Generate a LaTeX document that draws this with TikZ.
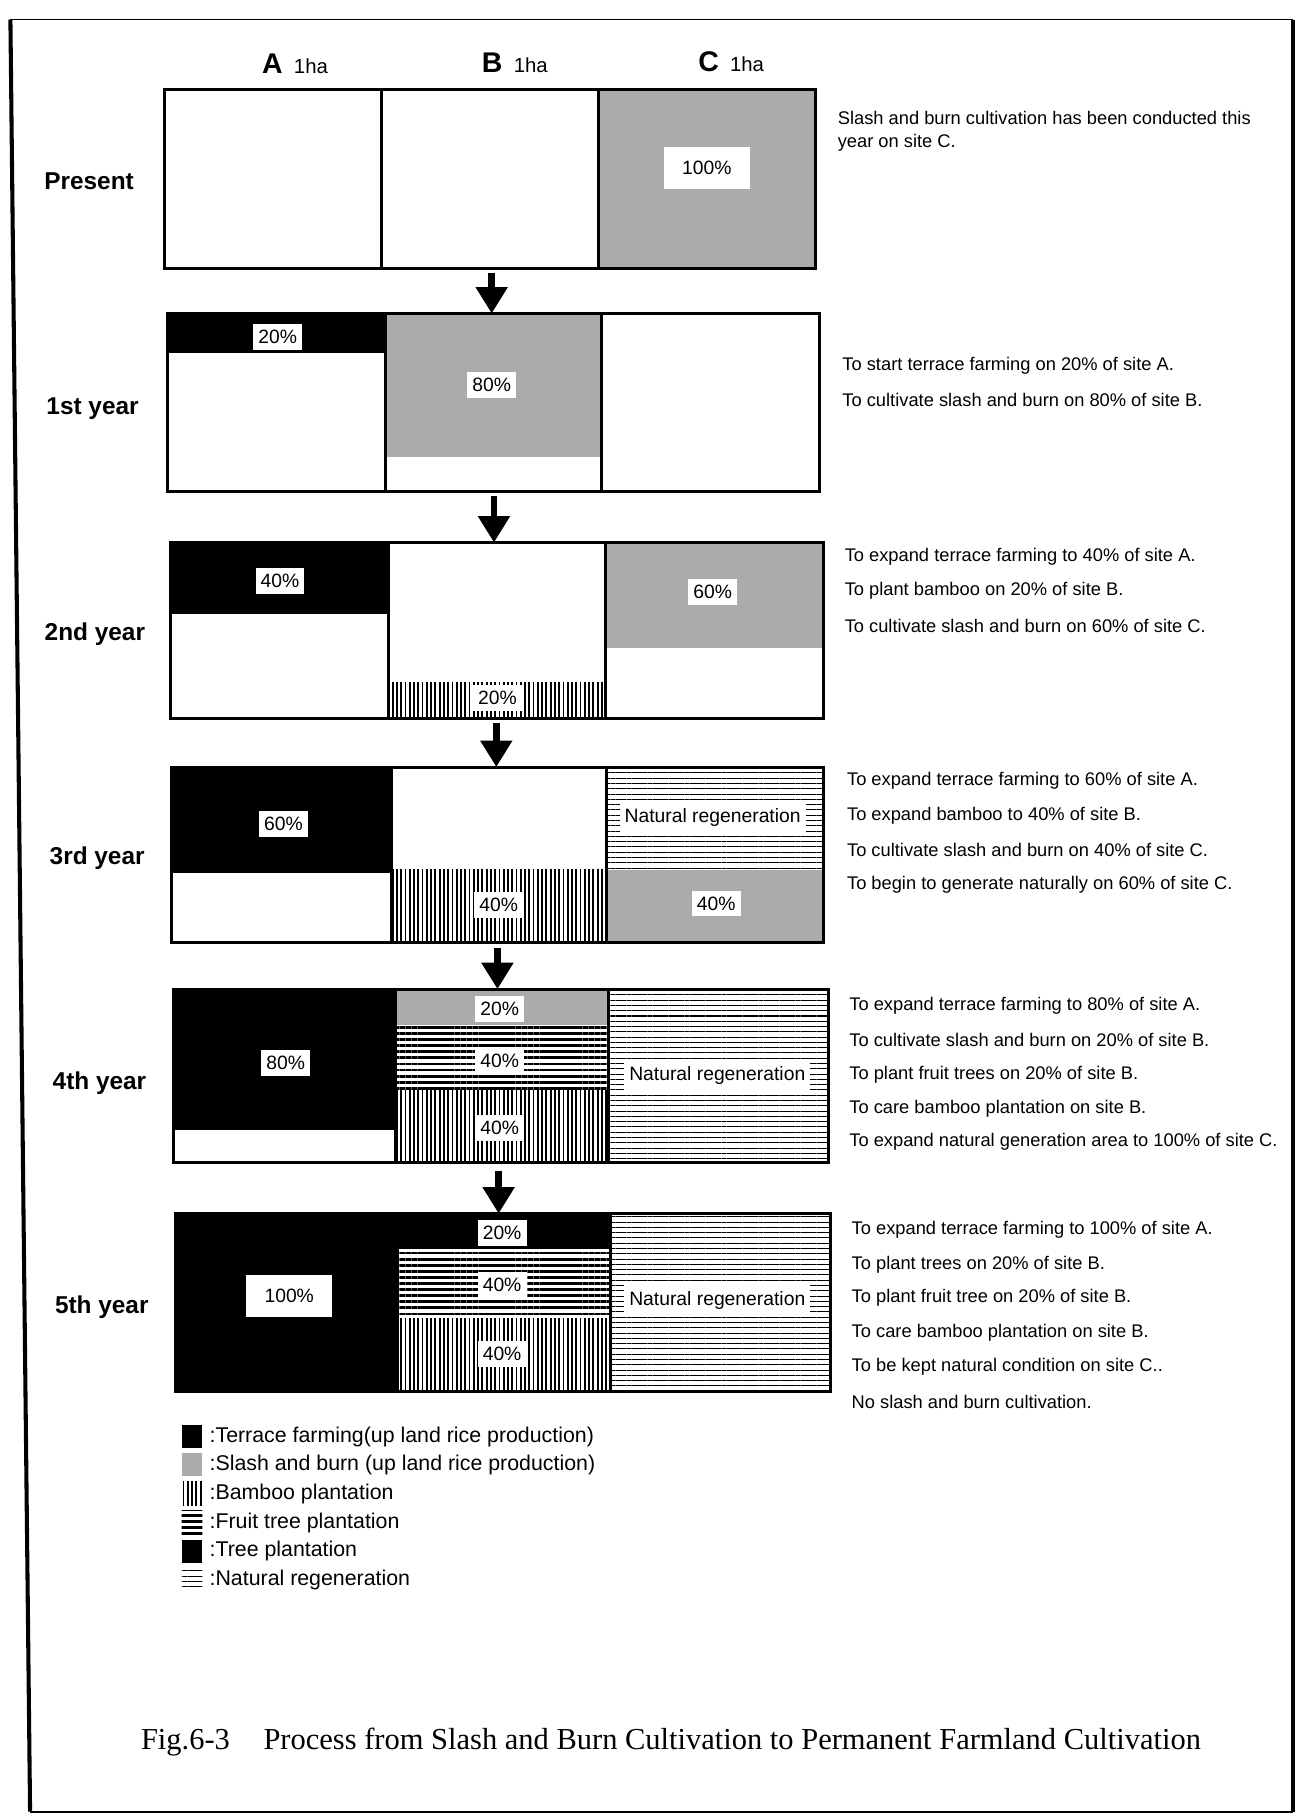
\documentclass[tikz,border=0pt]{standalone}
\usepackage{fontspec}
\setmainfont{Liberation Sans}
\newfontfamily\captionfont{Liberation Serif}
\usetikzlibrary{arrows.meta,patterns.meta}

\begin{document}
\begin{tikzpicture}[x=0.02cm,y=-0.02cm,
        cell/.style={draw=black,line width=1.5pt},
        terrace/.style={fill=black},
        slash/.style={fill=black!33},
        bamboo/.style={pattern={Lines[angle=90,distance=2.1pt,line width=0.9pt]}},
        fruit/.style={pattern={Lines[angle=0,distance=3pt,line width=1.4pt]}},
        natural/.style={pattern={Lines[angle=0,distance=2.6pt,line width=0.5pt]}},
        pct/.style={fill=white,inner xsep=2.5pt,inner ysep=3pt,font=\fontsize{9.5}{11}\selectfont},
        bigpct/.style={pct,inner xsep=9pt,inner ysep=7pt},
        rowlabel/.style={font=\fontsize{12}{14}\selectfont\bfseries},
        note/.style={anchor=west,font=\fontsize{9}{10}\selectfont},
        key/.style={anchor=west,font=\fontsize{10.5}{12}\selectfont},
        flow/.style={line width=3.2pt,-{Triangle[width=15pt,length=13pt]}}]
    \useasboundingbox (0,0) rectangle (1124,1568);

    % outer frame
    \draw[line width=0.5pt] (9,17) -- (1118,17);
    \draw[line width=2pt] (9,17) -- (26,1566);
    \draw[line width=2pt] (1118,17) -- (1118,1566);
    \draw[line width=0.8pt] (26,1566) -- (1118,1566);

    % site headings
    \node (hA) at (255,55) {{\fontsize{14}{16}\selectfont\bfseries A}\ \ {\fontsize{10}{12}\selectfont 1ha}};
    \node (hB) at (445,54) {{\fontsize{14}{16}\selectfont\bfseries B}\ \ {\fontsize{10}{12}\selectfont 1ha}};
    \node (hC) at (632,53) {{\fontsize{14}{16}\selectfont\bfseries C}\ \ {\fontsize{10}{12}\selectfont 1ha}};

    % present
    \fill[slash] (517,77) rectangle (705,232);
    \draw[cell] (142,77) rectangle (705,232);
    \draw[cell] (330,77) -- (330,232);
    \draw[cell] (517,77) -- (517,232);
    \node[bigpct] (c0) at (611,145) {100\%};
    \node[rowlabel] (present) at (77,157) {Present};
    \node[note] (d0a) at (718,102) {Slash and burn cultivation has been conducted this};
    \node[note] (d0b) at (718,123) {year on site C.};
    \coordinate (s0) at (425,236);
    \coordinate (e0) at (425,271);

    % 1st year
    \fill[terrace] (145,271) rectangle (333,305);
    \fill[slash] (333,271) rectangle (520,395);
    \draw[cell] (145,271) rectangle (708,425);
    \draw[cell] (333,271) -- (333,425);
    \draw[cell] (520,271) -- (520,425);
    \node[pct] (a1) at (240,291) {20\%};
    \node[pct] (b1) at (425,333) {80\%};
    \node[rowlabel] (y1) at (80,353) {1st year};
    \node[note] (d1a) at (722,316) {To start terrace farming on 20\% of site A.};
    \node[note] (d1b) at (722,346) {To cultivate slash and burn on 80\% of site B.};
    \coordinate (s1) at (427,429);
    \coordinate (e1) at (427,469);

    % 2nd year
    \fill[terrace] (147,469) rectangle (336,531);
    \fill[bamboo] (336,590) rectangle (523,621);
    \fill[slash] (523,469) rectangle (712,560);
    \draw[cell] (147,469) rectangle (712,621);
    \draw[cell] (336,469) -- (336,621);
    \draw[cell] (523,469) -- (523,621);
    \node[pct] (a2) at (242,502) {40\%};
    \node[pct] (b2) at (430,603) {20\%};
    \node[pct] (c2) at (616,512) {60\%};
    \node[rowlabel] (y2) at (82,548) {2nd year};
    \node[note] (d2a) at (724,481) {To expand terrace farming to 40\% of site A.};
    \node[note] (d2b) at (724,511) {To plant bamboo on 20\% of site B.};
    \node[note] (d2c) at (724,541) {To cultivate slash and burn on 60\% of site C.};
    \coordinate (s2) at (429,625);
    \coordinate (e2) at (429,663);

    % 3rd year
    \fill[terrace] (148,663) rectangle (338,755);
    \fill[bamboo] (338,752) rectangle (524,815);
    \fill[natural] (524,663) rectangle (712,752);
    \fill[slash] (524,752) rectangle (712,815);
    \draw[cell] (148,663) rectangle (712,815);
    \draw[cell] (338,663) -- (338,815);
    \draw[cell] (524,663) -- (524,815);
    \node[pct] (a3) at (245,712) {60\%};
    \node[pct] (b3) at (431,782) {40\%};
    \node[pct] (c3) at (616,707) {Natural regeneration};
    \node[pct] (c3b) at (619,781) {40\%};
    \node[rowlabel] (y3) at (84,742) {3rd year};
    \node[note] (d3a) at (726,675) {To expand terrace farming to 60\% of site A.};
    \node[note] (d3b) at (726,705) {To expand bamboo to 40\% of site B.};
    \node[note] (d3c) at (726,735) {To cultivate slash and burn on 40\% of site C.};
    \node[note] (d3d) at (726,765) {To begin to generate naturally on 60\% of site C.};
    \coordinate (s3) at (430,819);
    \coordinate (e3) at (430,855);

    % 4th year
    \fill[terrace] (150,855) rectangle (342,977);
    \fill[slash] (342,855) rectangle (526,886);
    \fill[fruit] (342,886) rectangle (526,943);
    \fill[bamboo] (342,943) rectangle (526,1005);
    \fill[natural] (526,855) rectangle (716,1005);
    \draw[cell] (150,855) rectangle (716,1005);
    \draw[cell] (342,855) -- (342,1005);
    \draw[cell] (526,855) -- (526,1005);
    \node[pct] (a4) at (247,919) {80\%};
    \node[pct] (b4) at (432,872) {20\%};
    \node[pct] (b4b) at (432,917) {40\%};
    \node[pct] (b4c) at (432,975) {40\%};
    \node[pct] (c4) at (620,930) {Natural regeneration};
    \node[rowlabel] (y4) at (86,936) {4th year};
    \node[note] (d4a) at (728,869) {To expand terrace farming to 80\% of site A.};
    \node[note] (d4b) at (728,899) {To cultivate slash and burn on 20\% of site B.};
    \node[note] (d4c) at (728,929) {To plant fruit trees on 20\% of site B.};
    \node[note] (d4d) at (728,958) {To care bamboo plantation on site B.};
    \node[note] (d4e) at (728,987) {To expand natural generation area to 100\% of site C.};
    \coordinate (s4) at (431,1012);
    \coordinate (e4) at (431,1049);

    % 5th year
    \fill[terrace] (152,1049) rectangle (344,1203);
    \fill[terrace] (344,1049) rectangle (528,1080);
    \fill[fruit] (344,1080) rectangle (528,1140);
    \fill[bamboo] (344,1140) rectangle (528,1203);
    \fill[natural] (528,1049) rectangle (718,1203);
    \draw[cell] (152,1049) rectangle (718,1203);
    \draw[cell] (344,1049) -- (344,1203);
    \draw[cell] (528,1049) -- (528,1203);
    \node[bigpct] (a5) at (250,1120) {100\%};
    \node[pct] (b5) at (434,1066) {20\%};
    \node[pct] (b5b) at (434,1111) {40\%};
    \node[pct] (b5c) at (434,1170) {40\%};
    \node[pct] (c5) at (620,1124) {Natural regeneration};
    \node[rowlabel] (y5) at (88,1130) {5th year};
    \node[note] (d5a) at (730,1063) {To expand terrace farming to 100\% of site A.};
    \node[note] (d5b) at (730,1093) {To plant trees on 20\% of site B.};
    \node[note] (d5c) at (730,1122) {To plant fruit tree on 20\% of site B.};
    \node[note] (d5d) at (730,1152) {To care bamboo plantation on site B.};
    \node[note] (d5e) at (730,1181) {To be kept natural condition on site C..};
    \node[note] (d5f) at (730,1212) {No slash and burn cultivation.};

    % year to year
    \draw[flow] (s0) -- (e0);
    \draw[flow] (s1) -- (e1);
    \draw[flow] (s2) -- (e2);
    \draw[flow] (s3) -- (e3);
    \draw[flow] (s4) -- (e4);

    % legend
    \fill[terrace] (157,1232) rectangle (175,1252);
    \fill[slash] (157,1256) rectangle (175,1276);
    \fill[bamboo] (157,1281) rectangle (175,1301);
    \fill[fruit] (157,1306) rectangle (175,1326);
    \fill[terrace] (157,1331) rectangle (175,1351);
    \fill[natural] (157,1356) rectangle (175,1376);
    \node[key] (k1) at (175,1242) {:Terrace farming(up land rice production)};
    \node[key] (k2) at (175,1266) {:Slash and burn (up land rice production)};
    \node[key] (k3) at (175,1291) {:Bamboo plantation};
    \node[key] (k4) at (175,1316) {:Fruit tree plantation};
    \node[key] (k5) at (175,1341) {:Tree plantation};
    \node[key] (k6) at (175,1366) {:Natural regeneration};

    % caption
    \node[font=\captionfont\fontsize{15}{18}\selectfont] (cap) at (580,1506)
        {Fig.6-3\hspace{1.1em}Process from Slash and Burn Cultivation to Permanent Farmland Cultivation};
\end{tikzpicture}
\end{document}
